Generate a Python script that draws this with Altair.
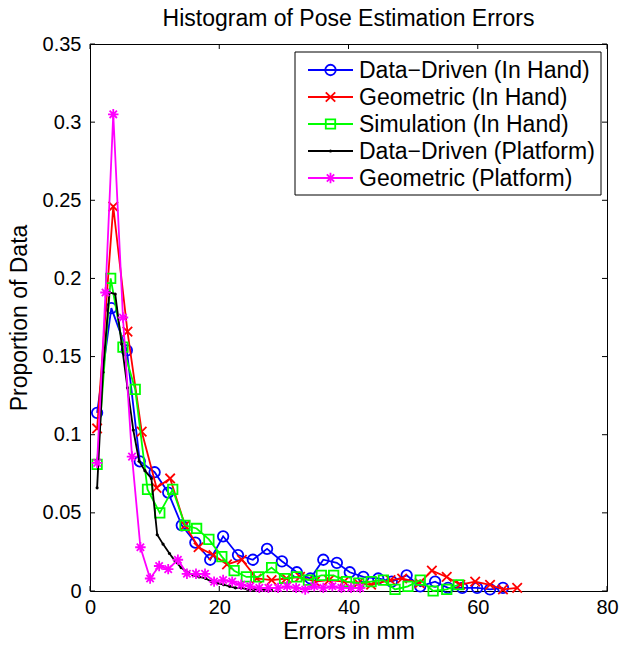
import altair as alt
import pandas as pd

names = ["Data\u2212Driven (In Hand)", "Geometric (In Hand)", "Simulation (In Hand)",
         "Data\u2212Driven (Platform)", "Geometric (Platform)"]
colors = ["#0000ff", "#ff0000", "#00ff00", "#000000", "#ff00ff"]

blue_x = [1.1, 3.3, 5.7, 7.7, 10.0, 12.1, 14.2, 16.3, 18.6, 20.6, 22.9, 25.2, 27.4, 29.7, 32.0,
          34.1, 36.1, 38.2, 40.2, 42.3, 44.6, 46.7, 49.0, 51.1, 53.4, 55.4, 57.6, 59.9, 61.9, 63.9]
blue_y = [0.114, 0.181, 0.154, 0.083, 0.076, 0.063, 0.042, 0.031, 0.020, 0.035, 0.023, 0.020, 0.027, 0.019, 0.012,
          0.008, 0.020, 0.018, 0.012, 0.009, 0.008, 0.006, 0.010, 0.003, 0.006, 0.002, 0.002, 0.002, 0.001, 0.002]

red_x = [1.1, 3.6, 5.8, 8.0, 10.3, 12.4, 14.7, 16.8, 19.1, 21.2, 23.5, 25.8, 28.1, 30.4, 32.5,
         34.8, 37.0, 39.3, 41.5, 43.5, 46.5, 48.3, 51.0, 52.9, 55.2, 57.3, 59.6, 61.9, 63.9, 66.1]
red_y = [0.104, 0.246, 0.166, 0.102, 0.066, 0.072, 0.042, 0.028, 0.023, 0.017, 0.020, 0.008, 0.007, 0.008, 0.009,
         0.006, 0.007, 0.006, 0.005, 0.004, 0.007, 0.008, 0.005, 0.013, 0.009, 0.004, 0.006, 0.004, 0.001, 0.002]

green_x = [1.1, 3.2, 5.1, 7.0, 8.9, 10.8, 12.8, 14.7, 16.5, 18.4, 20.4, 22.3, 24.2, 26.1, 28.1,
           30.1, 32.0, 33.8, 35.8, 37.7, 39.7, 41.6, 43.5, 45.4, 47.2, 49.2, 51.1, 53.1, 55.2, 57.0]
green_y = [0.081, 0.200, 0.156, 0.129, 0.065, 0.050, 0.065, 0.042, 0.040, 0.033, 0.022, 0.013, 0.009, 0.009, 0.015,
           0.008, 0.009, 0.007, 0.010, 0.010, 0.006, 0.005, 0.006, 0.007, 0.001, 0.003, 0.007, 0.000, 0.001, 0.004]

black_x = [1.1, 2.0, 3.0, 3.9, 4.9, 5.8, 6.7, 7.6, 8.5, 9.5, 10.4, 11.3, 12.3, 13.2, 14.1,
           15.1, 16.0, 16.9, 17.9, 18.8, 19.7, 20.7, 21.6, 22.5, 23.4, 24.4, 25.3, 26.2, 27.2, 28.1]
black_y = [0.066, 0.140, 0.191, 0.190, 0.158, 0.130, 0.103, 0.083, 0.077, 0.072, 0.036, 0.030, 0.024, 0.019, 0.015,
           0.012, 0.010, 0.009, 0.008, 0.006, 0.005, 0.004, 0.003, 0.002, 0.002, 0.001, 0.001, 0.001, 0.0005, 0.0005]

magenta_x = [1.1, 2.4, 3.6, 5.1, 6.5, 7.8, 9.3, 10.7, 12.1, 13.6, 15.0, 16.4, 17.8, 19.2, 20.6,
             22.0, 23.4, 24.8, 26.2, 27.6, 29.1, 30.5, 31.9, 33.3, 34.7, 36.1, 37.5, 38.9, 40.4, 41.8]
magenta_y = [0.082, 0.191, 0.305, 0.175, 0.086, 0.028, 0.008, 0.016, 0.014, 0.020, 0.011, 0.011, 0.011, 0.006, 0.007,
             0.006, 0.004, 0.003, 0.002, 0.002, 0.002, 0.003, 0.002, 0.001, 0.003, 0.002, 0.003, 0.002, 0.002, 0.002]

xticks = [0, 20, 40, 60, 80]
yticks = [0, 0.05, 0.1, 0.15, 0.2, 0.25, 0.3, 0.35]

series_x = [blue_x, red_x, green_x, black_x, magenta_x]
series_y = [blue_y, red_y, green_y, black_y, magenta_y]

FONT = "Liberation Sans"
FS = 20      # tick labels
FT = 23      # titles and legend text
W, H = 517, 547

shape_circle = "circle"
shape_x = "M-0.9,-0.9L0.9,0.9M-0.9,0.9L0.9,-0.9"
shape_sq = "M-0.9,-0.9L0.9,-0.9L0.9,0.9L-0.9,0.9Z"
shape_ast = "M-1,0L1,0M0,-1L0,1M-0.7,-0.7L0.7,0.7M-0.7,0.7L0.7,-0.7"
shapes = [shape_circle, shape_x, shape_sq, "circle", shape_ast]

xs = alt.Scale(domain=[0, 80], nice=False, zero=False)
ys = alt.Scale(domain=[0, 0.35], nice=False, zero=False)
xaxis = alt.Axis(values=xticks, ticks=False, domain=False, grid=False, labelPadding=6,
                 title="Errors in mm", titlePadding=3, labelFlush=False)
yaxis = alt.Axis(values=yticks, ticks=False, domain=False, grid=False, labelPadding=9,
                 format="~g", title="Proportion of Data", titlePadding=11, labelFlush=False)
X = alt.X("x:Q", scale=xs, axis=xaxis)
Y = alt.Y("y:Q", scale=ys, axis=yaxis)


def marker(i):
    if i == 3:
        return dict(shape="circle", filled=True, size=10, color=colors[i], opacity=1)
    return dict(shape=shapes[i], filled=False, size=110, color=colors[i], strokeWidth=1.8, opacity=1)


layers = []
# inward ticks on all four sides
ytdf = pd.DataFrame({"y": yticks})
xtdf = pd.DataFrame({"x": xticks})
layers.append(alt.Chart(ytdf).mark_rule(color="black", strokeWidth=1).encode(y=Y, x=alt.value(0), x2=alt.value(5)))
layers.append(alt.Chart(ytdf).mark_rule(color="black", strokeWidth=1).encode(y=Y, x=alt.value(W - 5), x2=alt.value(W)))
layers.append(alt.Chart(xtdf).mark_rule(color="black", strokeWidth=1).encode(x=X, y=alt.value(H - 5), y2=alt.value(H)))
layers.append(alt.Chart(xtdf).mark_rule(color="black", strokeWidth=1).encode(x=X, y=alt.value(0), y2=alt.value(5)))

for i in range(5):
    df = pd.DataFrame({"x": series_x[i], "y": series_y[i]})
    base = alt.Chart(df).encode(x=X, y=Y)
    layers.append(base.mark_line(color=colors[i], strokeWidth=1.8))
    layers.append(base.mark_point(**marker(i)))

# legend
layers.append(alt.Chart(pd.DataFrame({"n": [0]})).mark_rect(fill="white", stroke="black", strokeWidth=1).encode(
    x=alt.value(205), x2=alt.value(511), y=alt.value(8), y2=alt.value(151)))
for i in range(5):
    ry = 26 + 27 * i
    ldf = pd.DataFrame({"name": [names[i]]})
    lb = alt.Chart(ldf)
    layers.append(lb.mark_rule(color=colors[i], strokeWidth=1.8).encode(
        x=alt.value(218), x2=alt.value(263), y=alt.value(ry)))
    layers.append(lb.mark_point(**marker(i)).encode(x=alt.value(240.5), y=alt.value(ry)))
    layers.append(lb.mark_text(align="left", baseline="middle", font=FONT, fontSize=FT, color="black").encode(
        x=alt.value(269), y=alt.value(ry + 1), text="name:N"))

chart = alt.layer(*layers).properties(
    width=W, height=H,
    title=alt.TitleParams("Histogram of Pose Estimation Errors", font=FONT, fontSize=FT,
                          fontWeight="normal", color="black", frame="group", offset=3),
    padding={"left": 90, "top": 44, "right": 18, "bottom": 57},
    autosize=alt.AutoSizeParams(type="none"),
    background="white",
).configure_view(stroke="black", strokeWidth=1).configure_axis(
    labelFont=FONT, labelFontSize=FS, labelColor="black",
    titleFont=FONT, titleFontSize=FT, titleFontWeight="normal", titleColor="black",
).configure_title(font=FONT, fontSize=FT, fontWeight="normal", color="black")

chart.save("out.html", embed_options={"renderer": "svg", "actions": False})
